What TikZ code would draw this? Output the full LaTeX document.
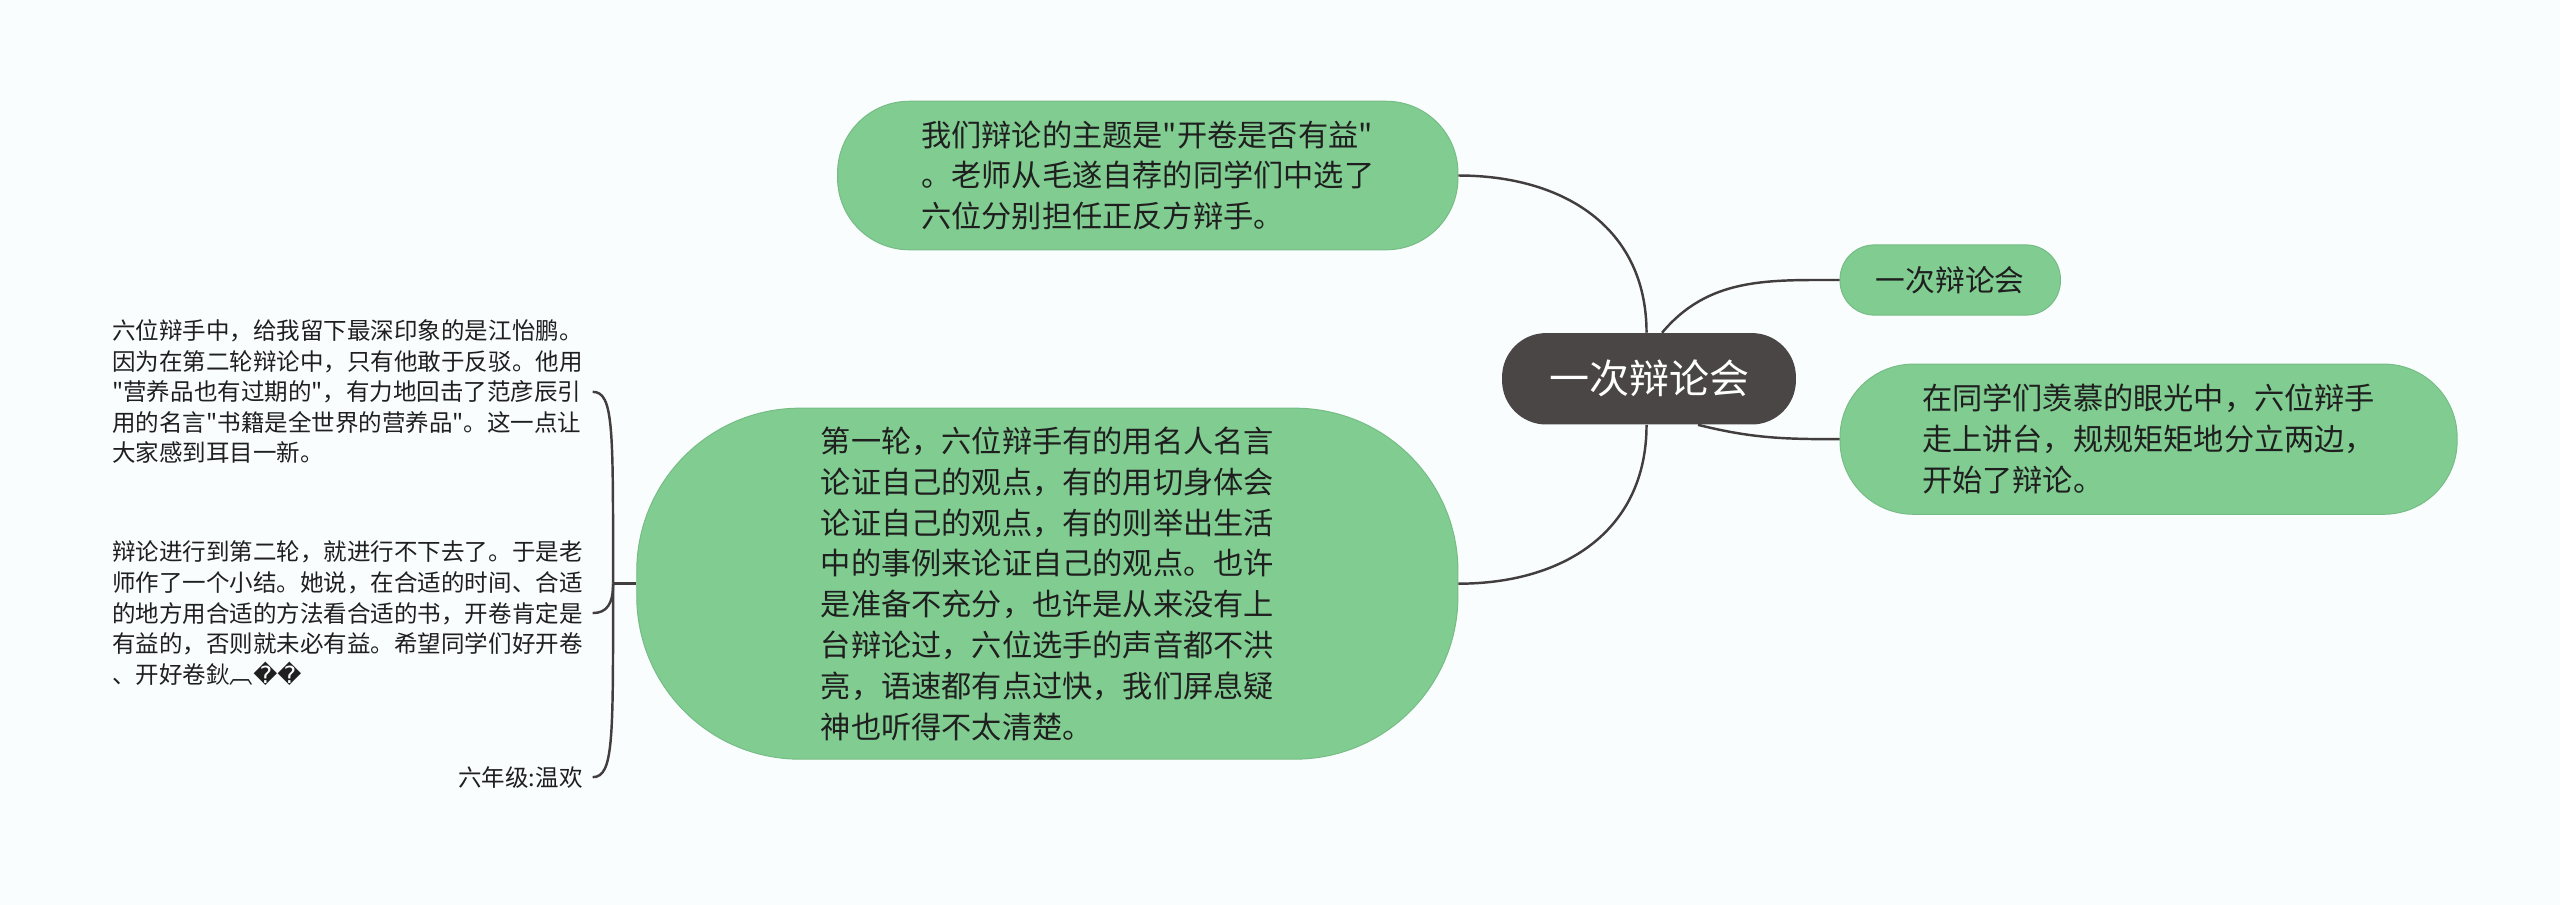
\documentclass[tikz,border=0pt]{standalone}
\usepackage{fontspec}
\setmainfont{Noto Sans CJK SC}[Ligatures=TeXOff]
\newfontfamily\symfont{DejaVu Sans}
\definecolor{leafgreen}{RGB}{128,204,145}
\definecolor{hubgray}{RGB}{75,70,70}
\definecolor{linkgray}{RGB}{66,62,62}
\definecolor{paper}{RGB}{250,253,254}

\begin{document}
\begin{tikzpicture}[
  x=1pt, y=1pt,
  hubnode/.style={rectangle, rounded corners=27pt, fill=hubgray, text=white, inner sep=0pt,
    minimum width=180pt, minimum height=56pt, font=\fontsize{24.5}{30}\selectfont},
  leafnode/.style={rectangle, fill=leafgreen, draw=leafgreen!92!black, line width=0.6pt,
    inner sep=0pt, align=left, text=black!88, font=\fontsize{18.5}{25}\selectfont},
  note/.style={inner ysep=0pt, inner xsep=6pt, text=black!88, font=\fontsize{14.4}{18.7}\selectfont},
  link/.style={draw=linkgray, line width=1.5pt}
]
\useasboundingbox (0,0) rectangle (1568,-554);
\fill[paper] (0,0) rectangle (1568,-554);

% Central topic
\node[hubnode] (hub) at (1010,-232) {一次辩论会};

% Main branches
\node[leafnode, rounded corners=44pt, minimum width=380pt, minimum height=91pt] (topic) at (703,-107.5)
  {我们辩论的主题是"开卷是否有益"\\。老师从毛遂自荐的同学们中选了\hspace*{10pt}\\六位分别担任正反方辩手。};
\node[leafnode, rounded corners=21pt, minimum width=135pt, minimum height=43pt,
  font=\fontsize{18.2}{22}\selectfont] (title) at (1194.5,-171.5) {一次辩论会};
\node[leafnode, rounded corners=45pt, minimum width=378pt, minimum height=92pt] (stage) at (1316,-269)
  {在同学们羡慕的眼光中，六位辩手\\走上讲台，规规矩矩地分立两边，\\开始了辩论。};
\node[leafnode, rounded corners=100pt, minimum width=503pt, minimum height=215pt] (round1) at (641.5,-357.5)
  {第一轮，六位辩手有的用名人名言\\论证自己的观点，有的用切身体会\\论证自己的观点，有的则举出生活\\
   中的事例来论证自己的观点。也许\\是准备不充分，也许是从来没有上\\台辩论过，六位选手的声音都不洪\\
   亮，语速都有点过快，我们屏息疑\\神也听得不太清楚。};

% Sub notes
\node[note, anchor=east, align=left] (note1) at (363,-240)
  {六位辩手中，给我留下最深印象的是江怡鹏。\\因为在第二轮辩论中，只有他敢于反驳。他用\\
   "营养品也有过期的"，有力地回击了范彦辰引\\用的名言"书籍是全世界的营养品"。这一点让\\大家感到耳目一新。};
\node[note, anchor=east, align=left] (note2) at (363,-375.5)
  {辩论进行到第二轮，就进行不下去了。于是老\\师作了一个小结。她说，在合适的时间、合适\\
   的地方用合适的方法看合适的书，开卷肯定是\\有益的，否则就未必有益。希望同学们好开卷\\、开好卷鈥︹{\symfont ��}};
\node[note, anchor=east, align=right] (note3) at (363,-476) {六年级:温欢};

% Connectors
\draw[link] (topic.east) to[out=0, in=90, looseness=1.1] ([xshift=-1.5pt]hub.north);
\draw[link] ([xshift=-1.5pt]hub.south) to[out=-90, in=0, looseness=1.1] (round1.east);
\draw[link] ([xshift=8pt]hub.north) to[out=50, in=180] (title.west);
\draw[link] ([xshift=30pt]hub.south) to[out=-14, in=180] (stage.west);

% Brace
\coordinate (fork) at (375.5,-357.5);
\draw[link] (round1.west) -- (fork);
\draw[link] (fork) .. controls +(0,95) and +(13,0) .. (note1.east);
\draw[link] (fork) .. controls +(0,-12) and +(9,0) .. (note2.east);
\draw[link] (fork) .. controls +(0,-95) and +(13,0) .. (note3.east);
\end{tikzpicture}
\end{document}
